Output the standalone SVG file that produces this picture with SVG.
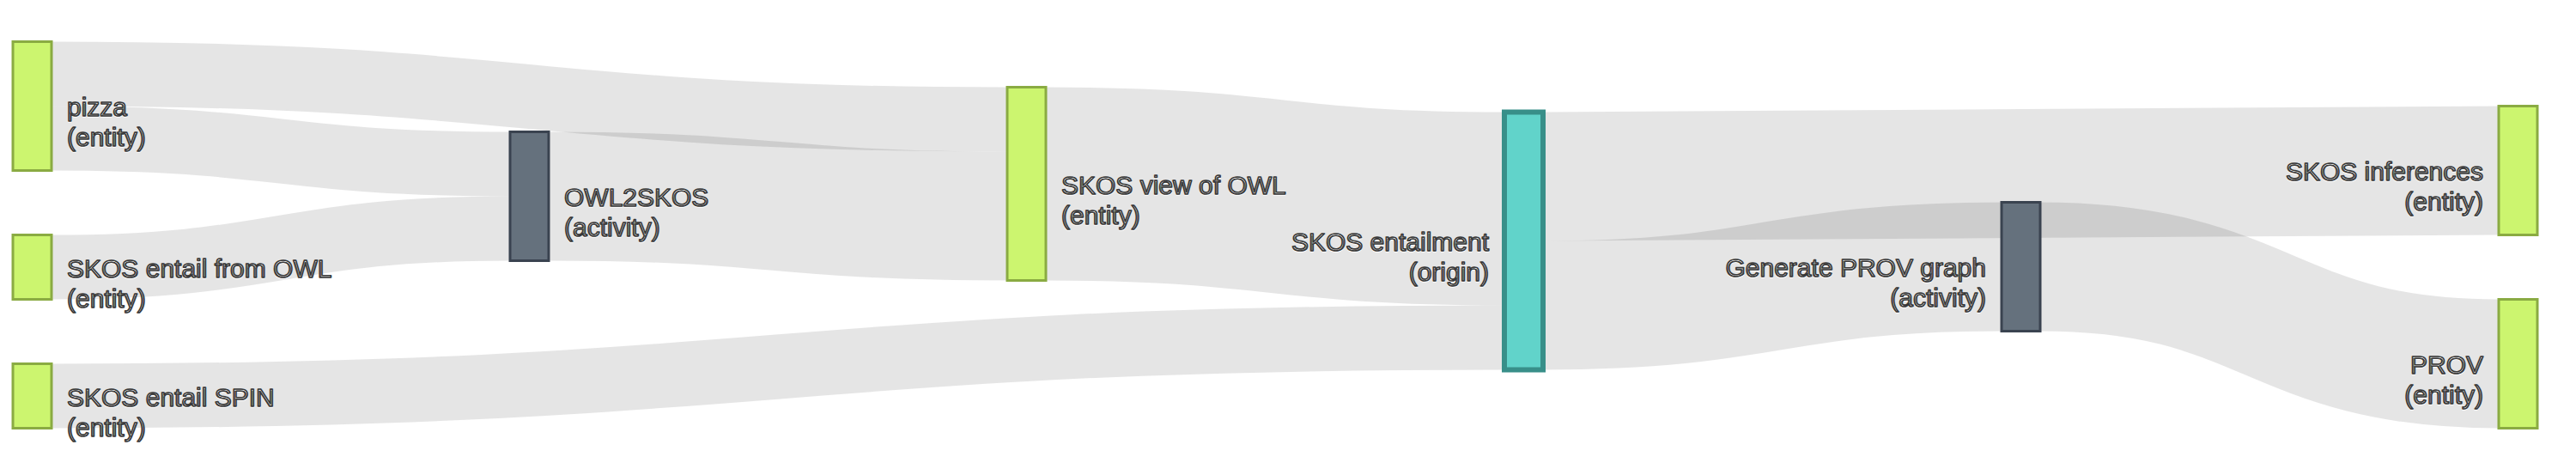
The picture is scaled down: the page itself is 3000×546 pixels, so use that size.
<svg xmlns="http://www.w3.org/2000/svg" width="3000" height="546" viewBox="0 0 3000 546">
<style>
.link{fill:none;stroke:#000;stroke-opacity:0.1}
.entity{fill:#ccf56f;stroke:#8aab42;stroke-width:3}
.activity{fill:#65717d;stroke:#3a4350;stroke-width:3}
.origin{fill:#61d3ca;stroke:#388f89;stroke-width:6}
text{font-family:"Liberation Sans",Arial,sans-serif;font-size:30px;fill:#383838;stroke:#383838;stroke-width:1.6;stroke-linejoin:round;text-shadow:0 1px 0 #fff}
.end{text-anchor:end}
</style>
<rect width="3000" height="546" fill="#fff"/>
<g id="links">
<path class="link" stroke-width="75" d="M60,86 C616.5,86 616.5,139 1173,139"/>
<path class="link" stroke-width="75" d="M60,161 C327,161 327,191 594,191"/>
<path class="link" stroke-width="75" d="M60,311 C327,311 327,266 594,266"/>
<path class="link" stroke-width="150" d="M639,228.5 C906,228.5 906,251.5 1173,251.5"/>
<path class="link" stroke-width="225" d="M1218,214 C1485,214 1485,243 1752,243"/>
<path class="link" stroke-width="75" d="M60,461 C906,461 906,393 1752,393"/>
<path class="link" stroke-width="150" d="M1797,205.5 C2353.5,205.5 2353.5,198.5 2910,198.5"/>
<path class="link" stroke-width="150" d="M1797,355.5 C2064,355.5 2064,310.5 2331,310.5"/>
<path class="link" stroke-width="150" d="M2376,310.5 C2643,310.5 2643,423.5 2910,423.5"/>
</g>
<g id="node-pizza">
<rect class="entity" x="15" y="48.5" width="45" height="150"/>
<text x="78" y="135">pizza<tspan x="78" dy="35">(entity)</tspan></text>
</g>
<g id="node-skos-entail-from-owl">
<rect class="entity" x="15" y="273.5" width="45" height="75"/>
<text x="78" y="322.5">SKOS entail from OWL<tspan x="78" dy="35">(entity)</tspan></text>
</g>
<g id="node-skos-entail-spin">
<rect class="entity" x="15" y="423.5" width="45" height="75"/>
<text x="78" y="472.5">SKOS entail SPIN<tspan x="78" dy="35">(entity)</tspan></text>
</g>
<g id="node-owl2skos">
<rect class="activity" x="594" y="153.5" width="45" height="150"/>
<text x="657" y="240">OWL2SKOS<tspan x="657" dy="35">(activity)</tspan></text>
</g>
<g id="node-skos-view-of-owl">
<rect class="entity" x="1173" y="101.5" width="45" height="225"/>
<text x="1236" y="225.5">SKOS view of OWL<tspan x="1236" dy="35">(entity)</tspan></text>
</g>
<g id="node-skos-entailment">
<rect class="origin" x="1752" y="130.5" width="45" height="300"/>
<text class="end" x="1734" y="292">SKOS entailment<tspan x="1734" dy="35">(origin)</tspan></text>
</g>
<g id="node-generate-prov-graph">
<rect class="activity" x="2331" y="235.5" width="45" height="150"/>
<text class="end" x="2313" y="322">Generate PROV graph<tspan x="2313" dy="35">(activity)</tspan></text>
</g>
<g id="node-skos-inferences">
<rect class="entity" x="2910" y="123.5" width="45" height="150"/>
<text class="end" x="2892" y="210">SKOS inferences<tspan x="2892" dy="35">(entity)</tspan></text>
</g>
<g id="node-prov">
<rect class="entity" x="2910" y="348.5" width="45" height="150"/>
<text class="end" x="2892" y="435">PROV<tspan x="2892" dy="35">(entity)</tspan></text>
</g>
</svg>
